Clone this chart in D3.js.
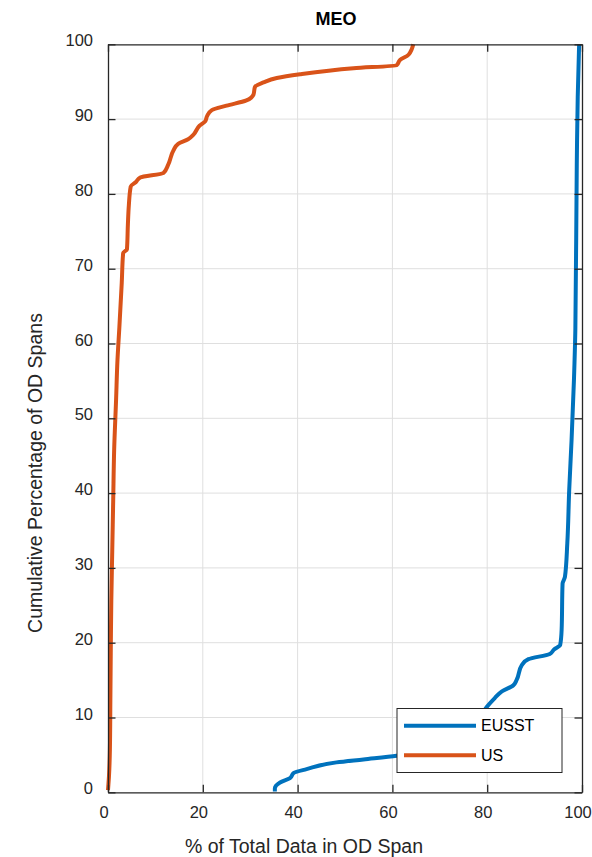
<!DOCTYPE html>
<html>
<head>
<meta charset="utf-8">
<script src="https://cdn.jsdelivr.net/npm/d3@7"></script>
<style>
  html, body { margin: 0; padding: 0; background: #fff; }
  svg { display: block; font-family: "Liberation Sans", Arial, Helvetica, sans-serif; }
</style>
</head>
<body>
<svg id="chart" width="592" height="857"></svg>
<script>
// Cumulative distributions: x = % of total data in OD span, y = cumulative % of OD spans
const usX = [0.0, 0.2, 0.4, 0.5, 0.6, 0.7, 0.9, 1.1, 1.3, 1.7, 2.0, 2.4, 2.9, 3.2, 4.0, 4.2, 4.4, 4.8, 5.9, 6.8, 11.7, 12.7, 13.8, 14.8, 16.9, 18.0, 19.3, 20.5, 20.9, 21.9, 25.0, 29.2, 30.7, 31.0, 32.8, 35.6, 40.5, 51.8, 60.9, 61.6, 63.4, 64.4];
const usY = [0.3, 2.1, 5.7, 12.3, 20.0, 25.7, 32.4, 39.1, 45.8, 52.4, 57.8, 62.2, 68.1, 72.1, 72.6, 76.0, 78.5, 81.0, 81.6, 82.2, 82.8, 83.9, 85.8, 86.7, 87.3, 87.9, 89.1, 89.7, 90.4, 91.2, 91.8, 92.5, 93.3, 94.3, 94.9, 95.5, 96.0, 96.8, 97.2, 97.9, 98.6, 100.0];

const eusstX = [35.2, 35.2, 36.3, 38.4, 39.2, 41.9, 48.2, 53.9, 60.9, 66.0, 71.0, 75.0, 78.5, 79.9, 81.6, 83.1, 85.5, 86.2, 87.3, 88.7, 93.2, 94.1, 95.4, 95.7, 95.9, 96.4, 96.9, 97.3, 97.8, 98.3, 98.6, 98.9, 99.1, 99.4];
const eusstY = [0.1, 0.5, 1.3, 1.9, 2.6, 3.1, 4.0, 4.4, 4.9, 5.5, 6.5, 8.0, 10.0, 11.4, 12.6, 13.5, 14.3, 15.0, 17.0, 17.8, 18.5, 19.1, 19.7, 21.7, 27.9, 28.8, 33.3, 40.4, 47.1, 55.1, 62.0, 84.1, 93.0, 100.0];

const xTicks = [0, 20, 40, 60, 80, 100];
const yTicks = [0, 10, 20, 30, 40, 50, 60, 70, 80, 90, 100];

const seriesNames = ["EUSST", "US"];
const seriesColors = ["#0072BD", "#D95319"];

const titleText = "MEO";
const xLabelText = "% of Total Data in OD Span";
const yLabelText = "Cumulative Percentage of OD Spans";

const svg = d3.select("#chart");
const plotLeft = 108, plotRight = 582, plotTop = 44.3, plotBottom = 792.3;
const x = d3.scaleLinear().domain([0, 100]).range([plotLeft, plotRight]);
const y = d3.scaleLinear().domain([0, 100]).range([plotBottom, plotTop]);

const axisColor = "#262626";
const gridColor = "#dfdfdf";
const tickLen = 7.5;

// grid
const grid = svg.append("g");
grid.selectAll("line.gx").data(xTicks.filter(t => t > 0 && t < 100)).join("line")
  .attr("x1", d => x(d)).attr("x2", d => x(d)).attr("y1", plotTop).attr("y2", plotBottom)
  .attr("stroke", gridColor).attr("stroke-width", 1);
grid.selectAll("line.gy").data(yTicks.filter(t => t > 0 && t < 100)).join("line")
  .attr("y1", d => y(d)).attr("y2", d => y(d)).attr("x1", plotLeft).attr("x2", plotRight)
  .attr("stroke", gridColor).attr("stroke-width", 1);

// data lines
const line = d3.line().x(d => x(d[0])).y(d => y(d[1])).curve(d3.curveMonotoneY);
const series = [
  { name: seriesNames[0], color: seriesColors[0], pts: d3.zip(eusstX, eusstY) },
  { name: seriesNames[1], color: seriesColors[1], pts: d3.zip(usX, usY) }
];
svg.append("g").selectAll("path").data(series).join("path")
  .attr("d", d => line(d.pts))
  .attr("fill", "none").attr("stroke", d => d.color)
  .attr("stroke-width", 4).attr("stroke-linejoin", "round");

// axes (boxed, ticks inward)
const fmt = d3.format("d");
const xAxisB = d3.axisBottom(x).tickValues(xTicks).tickFormat(fmt).tickSizeInner(-tickLen).tickSizeOuter(0).tickPadding(14);
const xAxisT = d3.axisTop(x).tickValues(xTicks).tickFormat("").tickSizeInner(-tickLen).tickSizeOuter(0);
const yAxisL = d3.axisLeft(y).tickValues(yTicks).tickFormat(fmt).tickSizeInner(-tickLen).tickSizeOuter(0).tickPadding(15);
const yAxisR = d3.axisRight(y).tickValues(yTicks).tickFormat("").tickSizeInner(-tickLen).tickSizeOuter(0);

function style(g) {
  g.select(".domain").attr("stroke", axisColor).attr("stroke-width", 1.3);
  g.selectAll(".tick line").attr("stroke", axisColor).attr("stroke-width", 1.3);
  g.selectAll(".tick text").attr("fill", axisColor).attr("font-size", 16.5);
}
svg.append("g").attr("transform", `translate(0,${plotBottom})`).call(xAxisB).call(style)
  .selectAll(".tick text").attr("dx", -4.5);
svg.append("g").attr("transform", `translate(0,${plotTop})`).call(xAxisT).call(style);
svg.append("g").attr("transform", `translate(${plotLeft},0)`).call(yAxisL).call(style)
  .selectAll(".tick text").attr("dy", "0.1em");
svg.append("g").attr("transform", `translate(${plotRight},0)`).call(yAxisR).call(style);

// title and axis labels
svg.append("text").attr("x", 336).attr("y", 25).attr("text-anchor", "middle")
  .attr("font-size", 18).attr("font-weight", "bold").attr("fill", "#000").text(titleText);
svg.append("text").attr("x", 304).attr("y", 853).attr("text-anchor", "middle")
  .attr("font-size", 19.5).attr("fill", axisColor).text(xLabelText);
svg.append("text").attr("transform", "translate(42,473) rotate(-90)").attr("text-anchor", "middle")
  .attr("font-size", 19.5).attr("fill", axisColor).text(yLabelText);

// legend
const lg = svg.append("g");
lg.append("rect").attr("x", 397).attr("y", 708.5).attr("width", 165).attr("height", 64)
  .attr("fill", "#fff").attr("stroke", axisColor).attr("stroke-width", 1);
const items = lg.selectAll("g.item").data(series).join("g")
  .attr("transform", (d, i) => `translate(0,${725.7 + i * 29.6})`);
items.append("line").attr("x1", 404).attr("x2", 476).attr("y1", 0).attr("y2", 0)
  .attr("stroke", d => d.color).attr("stroke-width", 4);
items.append("text").attr("x", 481).attr("y", 0).attr("dy", "0.35em")
  .attr("font-size", 16).attr("fill", "#000").text(d => d.name);
</script>
</body>
</html>
